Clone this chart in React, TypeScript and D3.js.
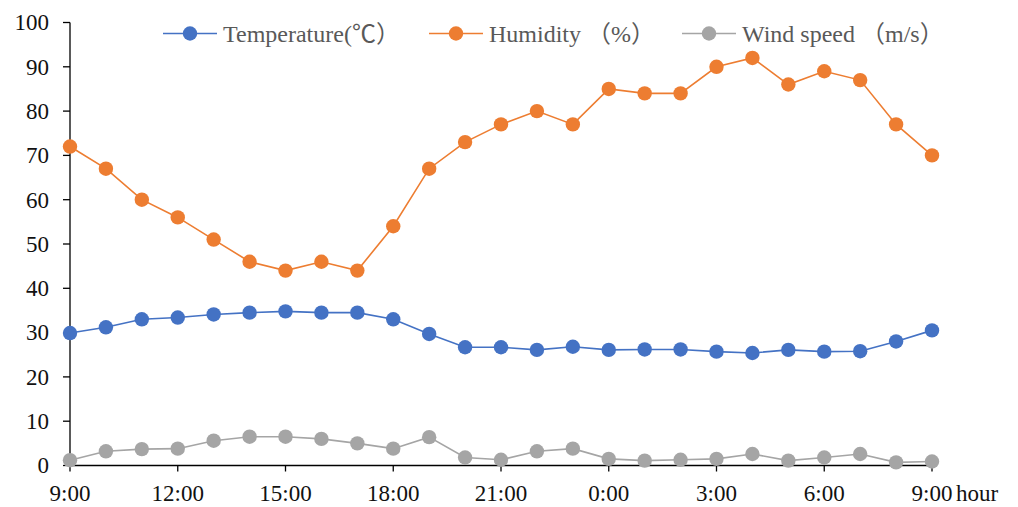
import React, { useEffect, useRef } from 'react';
import * as d3 from 'd3';

// hourly readings, 9:00 -> 9:00 next day
const hours = d3.range(0, 25);
const tickLabels = ['9:00', '12:00', '15:00', '18:00', '21:00', '0:00', '3:00', '6:00', '9:00'];
const yTicks = [0, 10, 20, 30, 40, 50, 60, 70, 80, 90, 100];

const temperature = [29.9, 31.2, 33.0, 33.4, 34.1, 34.5, 34.8, 34.5, 34.5, 33.0, 29.7, 26.7, 26.7, 26.1, 26.8, 26.1, 26.2, 26.2, 25.7, 25.4, 26.1, 25.7, 25.8, 28.0, 30.5];
const humidity = [72, 67, 60, 56, 51, 46, 44, 46, 44, 54, 67, 73, 77, 80, 77, 85, 84, 84, 90, 92, 86, 89, 87, 77, 70];
const windSpeed = [1.2, 3.2, 3.7, 3.8, 5.6, 6.5, 6.5, 6.0, 5.0, 3.8, 6.4, 1.8, 1.3, 3.2, 3.8, 1.5, 1.1, 1.3, 1.5, 2.6, 1.1, 1.8, 2.6, 0.7, 0.9];

const seriesNames = ['Temperature(℃）', 'Humidity （%）', 'Wind speed （m/s）'];
const seriesColors = ['#4472C4', '#ED7D31', '#A5A5A5'];

const FONT = '"Liberation Serif", "Times New Roman", "Noto Sans CJK SC", serif';

const App: React.FC = () => {
  const svgRef = useRef<SVGSVGElement>(null);

  useEffect(() => {
    if (!svgRef.current) return;
    const width = 1018;
    const height = 507;
    const svg = d3.select(svgRef.current);
    svg.selectAll('*').remove();

    const x = d3.scaleLinear().domain([0, 24]).range([70, 932]);
    const y = d3.scaleLinear().domain([0, 100]).range([465.5, 22.5]);

    // y axis
    const yAxis = svg.append('g');
    yAxis.append('line')
      .attr('x1', x(0)).attr('x2', x(0))
      .attr('y1', y(0)).attr('y2', y(100))
      .attr('stroke', '#000').attr('stroke-width', 1.3);
    yTicks.forEach((t) => {
      yAxis.append('line')
        .attr('x1', x(0) - 7).attr('x2', x(0))
        .attr('y1', y(t)).attr('y2', y(t))
        .attr('stroke', '#000').attr('stroke-width', 1.3);
      yAxis.append('text')
        .text(t)
        .attr('x', x(0) - 21).attr('y', y(t))
        .attr('dy', '0.34em')
        .attr('text-anchor', 'end')
        .attr('font-family', FONT).attr('font-size', 23)
        .attr('fill', '#111');
    });

    // x axis
    const xAxis = svg.append('g');
    xAxis.append('line')
      .attr('x1', x(0)).attr('x2', x(24))
      .attr('y1', y(0)).attr('y2', y(0))
      .attr('stroke', '#000').attr('stroke-width', 1.3);
    tickLabels.forEach((lab, i) => {
      const h = i * 3;
      xAxis.append('line')
        .attr('x1', x(h)).attr('x2', x(h))
        .attr('y1', y(0)).attr('y2', y(0) + 6)
        .attr('stroke', '#000').attr('stroke-width', 1.3);
      xAxis.append('text')
        .text(lab)
        .attr('x', x(h)).attr('y', 501)
        .attr('text-anchor', 'middle')
        .attr('font-family', FONT).attr('font-size', 23)
        .attr('fill', '#111');
    });
    xAxis.append('text')
      .text('hour')
      .attr('x', x(24) + 24).attr('y', 501)
      .attr('font-family', FONT).attr('font-size', 23)
      .attr('fill', '#111');

    // series
    const allSeries = [temperature, humidity, windSpeed];
    const line = d3.line<number>().x((_, i) => x(hours[i])).y((d) => y(d));

    allSeries.forEach((vals, si) => {
      const g = svg.append('g');
      g.append('path')
        .attr('d', line(vals))
        .attr('fill', 'none')
        .attr('stroke', seriesColors[si])
        .attr('stroke-width', 1.6);
      g.selectAll('circle')
        .data(vals)
        .enter()
        .append('circle')
        .attr('cx', (_, i) => x(hours[i]))
        .attr('cy', (d) => y(d))
        .attr('r', 7.2)
        .attr('fill', seriesColors[si]);
    });

    // legend
    const legendX = [163, 429, 682];
    const legendY = 33.5;
    seriesNames.forEach((name, i) => {
      const g = svg.append('g').attr('transform', `translate(${legendX[i]}, ${legendY})`);
      g.append('line')
        .attr('x1', 0).attr('x2', 54)
        .attr('stroke', seriesColors[i]).attr('stroke-width', 1.6);
      g.append('circle')
        .attr('cx', 27).attr('r', 7.2)
        .attr('fill', seriesColors[i]);
      g.append('text')
        .text(name)
        .attr('x', 60).attr('dy', '0.34em')
        .attr('font-family', FONT).attr('font-size', 24)
        .attr('fill', '#595959');
    });

    svg.attr('width', width).attr('height', height);
  }, []);

  return (
    <div style={{ position: 'absolute', left: 0, top: 0, width: 1018, height: 507, background: '#fff' }}>
      <svg ref={svgRef} width={1018} height={507} style={{ display: 'block' }} />
    </div>
  );
};

export default App;
